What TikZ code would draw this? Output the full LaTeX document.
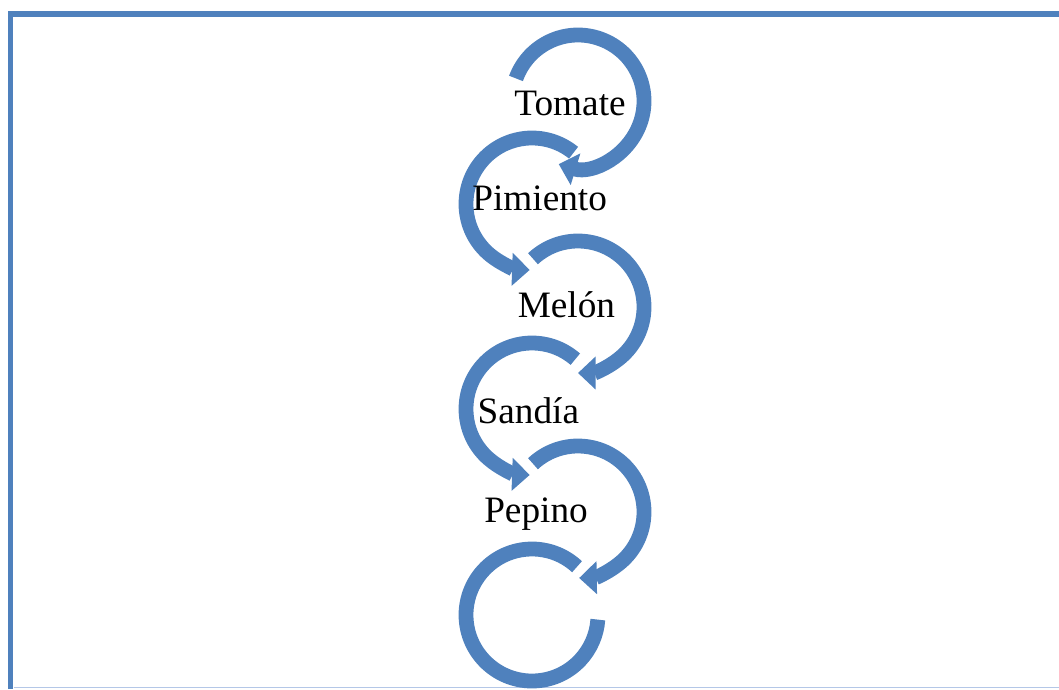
\documentclass[tikz,border=0pt]{standalone}
\usepackage{fontspec}
\setmainfont{Liberation Serif}
\usepackage{xcolor}
\usepackage{tikz}
\usetikzlibrary{arrows.meta}

\definecolor{ringblue}{RGB}{79,129,189}
\definecolor{edgeblue}{RGB}{180,199,231}

\begin{document}
\begin{tikzpicture}[
    ring/.style={draw=ringblue, line width=0.37cm},
    ringarrow/.style={ring, -{Triangle[width=0.8cm, length=0.44cm]}},
    frame/.style={draw=ringblue, line width=0.15cm},
    label/.style={anchor=base, font=\fontsize{26.5}{31}\selectfont, inner sep=0pt},
]
    \useasboundingbox (0,0) rectangle (26.475,-17.225);

    % outer frame
    \draw[frame] (0.2625,-17.225) |- (26.475,-0.345);
    \draw[draw=edgeblue, line width=0.04cm] (0.34,-17.19) -- (26.475,-17.19);

    % ring centres, alternating right / left
    \coordinate (c1) at (14.45,-2.525);
    \coordinate (c2) at (13.3,-5.1);
    \coordinate (c3) at (14.45,-7.675);
    \coordinate (c4) at (13.3,-10.225);
    \coordinate (c5) at (14.45,-12.8);
    \coordinate (c6) at (13.3,-15.375);

    \draw[ringarrow] (c1) ++(160:1.65) arc[start angle=160, end angle=-107, radius=1.65];
    \draw[ringarrow] (c2) ++(51:1.65) arc[start angle=51, end angle=268, radius=1.65];
    \draw[ringarrow] (c3) ++(133:1.65) arc[start angle=133, end angle=-90, radius=1.65];
    \draw[ringarrow] (c4) ++(49:1.65) arc[start angle=49, end angle=268, radius=1.65];
    \draw[ringarrow] (c5) ++(133:1.65) arc[start angle=133, end angle=-89, radius=1.65];
    \draw[ring] (c6) ++(47:1.65) arc[start angle=47, end angle=356, radius=1.65];

    \node[label] (tomate) at (14.25,-2.875) {Tomate};
    \node[label] (pimiento) at (13.49,-5.25) {Pimiento};
    \node[label] (melon) at (14.16,-7.925) {Melón};
    \node[label] (sandia) at (13.21,-10.575) {Sandía};
    \node[label] (pepino) at (13.4,-13.05) {Pepino};
\end{tikzpicture}
\end{document}
